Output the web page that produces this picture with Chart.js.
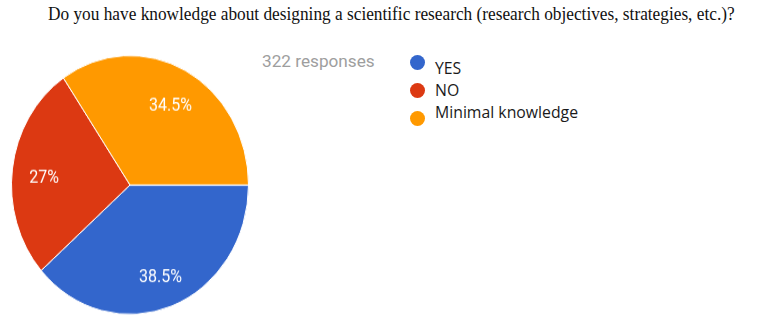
<!DOCTYPE html>
<html>
<head>
<meta charset="utf-8">
<script src="https://cdn.jsdelivr.net/npm/chart.js@4/dist/chart.umd.min.js"></script>
<style>
  html, body { margin: 0; padding: 0; background: #fff; }
  #wrap { position: relative; width: 757px; height: 316px; overflow: hidden; background: #fff; }
  #title { position: absolute; left: 48px; top: 4px; font-family: "Liberation Serif", serif; font-size: 17.3px; color: #111; white-space: nowrap; transform-origin: 0 0; transform: scaleY(1.08); }
  #resp { position: absolute; left: 262px; top: 51px; font-family: Roboto, sans-serif; font-size: 17.2px; color: #9e9e9e; white-space: nowrap; }
  #pieBox { position: absolute; left: 11px; top: 55px; width: 238px; height: 238px; transform-origin: 0 0; transform: scaleY(1.092); }
  #legend { position: absolute; left: 410px; top: 54px; font-family: "Open Sans", sans-serif; font-size: 15.8px; color: #1a1a1a; }
  .item { position: relative; height: 28px; }
  .dot { position: absolute; left: 0; width: 15px; height: 15px; border-radius: 50%; }
  .lbl { position: absolute; left: 25px; white-space: nowrap; }
</style>
</head>
<body>
<div id="wrap">
  <div id="title"></div>
  <div id="resp"></div>
  <div id="pieBox"><canvas id="pie" width="238" height="238"></canvas></div>
  <div id="legend"></div>
</div>
<script>
const titleText = "Do you have knowledge about designing a scientific research (research objectives, strategies, etc.)?";
const responsesText = "322 responses";
const categories = ["YES", "NO", "Minimal knowledge"];
const percentages = [38.5, 27, 34.5];
const percentLabels = ["38.5%", "27%", "34.5%"];
const sliceColors = ["#3366cc", "#dc3912", "#ff9900"];

document.getElementById('title').textContent = titleText;
document.getElementById('resp').textContent = responsesText;

const legend = document.getElementById('legend');
const dotTops = [1, 29, 57];
const lblTops = [3, 25, 47];
categories.forEach((c, i) => {
  const dot = document.createElement('div');
  dot.className = 'dot';
  dot.style.top = dotTops[i] + 'px';
  dot.style.background = sliceColors[i];
  const lbl = document.createElement('div');
  lbl.className = 'lbl';
  lbl.style.top = lblTops[i] + 'px';
  lbl.textContent = c;
  legend.appendChild(dot);
  legend.appendChild(lbl);
});

const sliceLabels = {
  id: 'sliceLabels',
  afterDatasetsDraw(chart) {
    const ctx = chart.ctx;
    const meta = chart.getDatasetMeta(0);
    ctx.save();
    ctx.fillStyle = '#ffffff';
    ctx.font = '16px Roboto, sans-serif';
    ctx.textAlign = 'center';
    ctx.textBaseline = 'middle';
    meta.data.forEach((arc, i) => {
      const p = arc.getProps(['x', 'y', 'startAngle', 'endAngle', 'outerRadius'], true);
      const mid = (p.startAngle + p.endAngle) / 2;
      const r = p.outerRadius * 0.73;
      ctx.fillText(percentLabels[i], p.x + Math.cos(mid) * r, p.y + Math.sin(mid) * r + 4.5);
    });
    ctx.restore();
  }
};

new Chart(document.getElementById('pie'), {
  type: 'pie',
  data: {
    labels: categories,
    datasets: [{
      data: percentages,
      backgroundColor: sliceColors,
      borderColor: '#ffffff',
      borderWidth: 1
    }]
  },
  options: {
    responsive: false,
    animation: false,
    devicePixelRatio: 1,
    rotation: 90,
    layout: { padding: 0 },
    plugins: { legend: { display: false }, tooltip: { enabled: false }, title: { display: false } }
  },
  plugins: [sliceLabels]
});
</script>
</body>
</html>
